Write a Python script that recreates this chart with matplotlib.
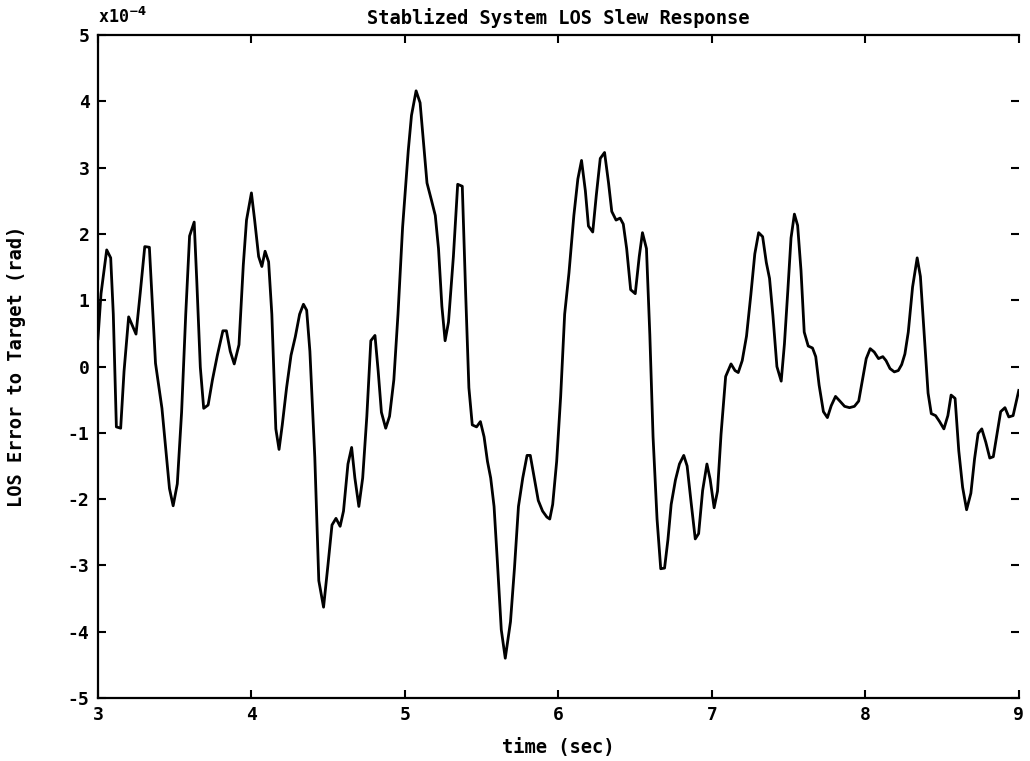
import numpy as np
import matplotlib
matplotlib.use("Agg")
import matplotlib.pyplot as plt

# time (sec) and LOS error (units of 1e-4 rad)
t_sec = [3.000, 3.020, 3.057, 3.083, 3.100, 3.120, 3.148, 3.170, 3.200, 3.248,
         3.275, 3.305, 3.335, 3.375, 3.417, 3.466, 3.490, 3.517, 3.545, 3.572,
         3.597, 3.627, 3.644, 3.667, 3.689, 3.718, 3.746, 3.778, 3.814, 3.837,
         3.862, 3.888, 3.919, 3.947, 3.968, 4.000, 4.021, 4.047, 4.068, 4.089,
         4.112, 4.133, 4.159, 4.180, 4.201, 4.229, 4.258, 4.286, 4.314, 4.339,
         4.360, 4.381, 4.413, 4.439, 4.470, 4.498, 4.525, 4.551, 4.578, 4.600,
         4.629, 4.653, 4.674, 4.700, 4.725, 4.752, 4.778, 4.805, 4.826, 4.847,
         4.875, 4.900, 4.928, 4.955, 4.985,
         5.022, 5.043, 5.073, 5.099, 5.123, 5.144, 5.172, 5.198, 5.219, 5.241,
         5.262, 5.284, 5.316, 5.344, 5.374, 5.396, 5.417, 5.439, 5.467, 5.492,
         5.516, 5.538, 5.559, 5.581, 5.602, 5.628, 5.654, 5.688, 5.714, 5.740,
         5.768, 5.796, 5.817, 5.843, 5.869, 5.897, 5.925, 5.944, 5.963, 5.989,
         6.015, 6.041, 6.069, 6.101, 6.127, 6.151, 6.176, 6.196, 6.224, 6.247,
         6.273, 6.301, 6.327, 6.348, 6.376, 6.402, 6.423, 6.445, 6.471, 6.501,
         6.527, 6.548, 6.574, 6.596, 6.617, 6.643, 6.667, 6.692, 6.714, 6.735,
         6.763, 6.789, 6.817, 6.839, 6.865, 6.892, 6.914, 6.940, 6.968, 6.989,
         7.015, 7.037, 7.060, 7.090, 7.125, 7.151, 7.172, 7.198, 7.226, 7.254,
         7.280, 7.305, 7.331, 7.355, 7.376, 7.398, 7.424, 7.452, 7.473, 7.495,
         7.516, 7.538, 7.559, 7.581, 7.602, 7.628, 7.656, 7.677, 7.699, 7.727,
         7.753, 7.778, 7.806, 7.834, 7.865, 7.897, 7.929, 7.957, 7.985, 8.006,
         8.032, 8.058, 8.086, 8.114, 8.135, 8.161, 8.189, 8.215, 8.237, 8.258,
         8.280, 8.308, 8.338, 8.359, 8.381, 8.409, 8.430, 8.458, 8.484, 8.512,
         8.538, 8.559, 8.585, 8.609, 8.634, 8.660, 8.688, 8.712, 8.735, 8.759,
         8.785, 8.811, 8.834, 8.856, 8.882, 8.910, 8.935, 8.963, 9.000]

los_err = [0.42, 1.10, 1.76, 1.64, 0.79, -0.91, -0.93, -0.07, 0.75, 0.49,
           1.10, 1.81, 1.80, 0.05, -0.63, -1.84, -2.10, -1.77, -0.69, 0.79,
           1.97, 2.18, 1.29, -0.01, -0.63, -0.58, -0.20, 0.17, 0.54, 0.54,
           0.23, 0.04, 0.33, 1.53, 2.21, 2.62, 2.21, 1.66, 1.51, 1.74,
           1.58, 0.79, -0.94, -1.25, -0.88, -0.32, 0.17, 0.45, 0.79, 0.94,
           0.85, 0.23, -1.37, -3.23, -3.63, -3.01, -2.39, -2.29, -2.41, -2.18,
           -1.47, -1.22, -1.68, -2.11, -1.68, -0.75, 0.39, 0.47, -0.07, -0.69,
           -0.93, -0.75, -0.20, 0.79, 2.10,
           3.26, 3.79, 4.16, 3.98, 3.33, 2.77, 2.52, 2.28, 1.78, 0.91,
           0.39, 0.67, 1.66, 2.75, 2.72, 1.10, -0.32, -0.88, -0.91, -0.83,
           -1.06, -1.43, -1.68, -2.11, -2.92, -3.97, -4.40, -3.85, -3.04, -2.11,
           -1.68, -1.34, -1.34, -1.68, -2.02, -2.18, -2.27, -2.30, -2.08, -1.43,
           -0.45, 0.79, 1.41, 2.28, 2.83, 3.11, 2.65, 2.12, 2.03, 2.58,
           3.14, 3.23, 2.77, 2.34, 2.21, 2.24, 2.15, 1.78, 1.16, 1.10,
           1.66, 2.02, 1.78, 0.48, -1.06, -2.30, -3.05, -3.04, -2.61, -2.08,
           -1.71, -1.47, -1.34, -1.50, -2.05, -2.60, -2.52, -1.87, -1.47, -1.70,
           -2.13, -1.88, -1.02, -0.15, 0.04, -0.06, -0.09, 0.09, 0.46, 1.08,
           1.70, 2.02, 1.96, 1.57, 1.33, 0.77, 0.00, -0.22, 0.34, 1.14,
           1.94, 2.30, 2.13, 1.45, 0.52, 0.31, 0.28, 0.15, -0.28, -0.68,
           -0.77, -0.59, -0.45, -0.52, -0.60, -0.62, -0.60, -0.52, -0.15, 0.12,
           0.27, 0.22, 0.12, 0.15, 0.09, -0.03, -0.08, -0.06, 0.03, 0.19,
           0.52, 1.20, 1.64, 1.36, 0.59, -0.40, -0.71, -0.74, -0.83, -0.94,
           -0.74, -0.43, -0.48, -1.27, -1.82, -2.16, -1.91, -1.39, -1.01, -0.94,
           -1.14, -1.38, -1.36, -1.05, -0.68, -0.62, -0.76, -0.74, -0.36]

x_ticks = [3, 4, 5, 6, 7, 8, 9]
y_ticks = [-5, -4, -3, -2, -1, 0, 1, 2, 3, 4, 5]

plt.rcParams['font.family'] = ['DejaVu Sans Mono']
plt.rcParams['font.weight'] = 'bold'
plt.rcParams['axes.unicode_minus'] = False

fig = plt.figure(figsize=(10.30, 7.61), dpi=100)
ax = fig.add_axes([0.0951, 0.0828, 0.894, 0.871])

ax.plot(t_sec, los_err, color='black', lw=2.0)

ax.set_xlim(3, 9)
ax.set_ylim(-5, 5)
ax.set_xticks(x_ticks)
ax.set_yticks(y_ticks)
ax.tick_params(direction='in', length=6, width=1.5, top=True, right=True,
               labelsize=13, pad=6)
for lab in ax.get_xticklabels() + ax.get_yticklabels():
    lab.set_fontweight('bold')

for s in ['left', 'bottom', 'top']:
    ax.spines[s].set_linewidth(1.6)
ax.spines['right'].set_visible(False)

ax.set_title('Stablized System LOS Slew Response', fontsize=13.5,
             fontweight='bold', pad=8)
ax.set_xlabel('time (sec)', fontsize=13.5, fontweight='bold', labelpad=10)
ax.set_ylabel('LOS Error to Target (rad)', fontsize=13.5, fontweight='bold',
              labelpad=30)
ax.text(0.0, 1.012, r'x10$^{-4}$', transform=ax.transAxes, fontsize=12,
        fontweight='bold', ha='left', va='bottom')

fig.savefig('out.png', dpi=100)
